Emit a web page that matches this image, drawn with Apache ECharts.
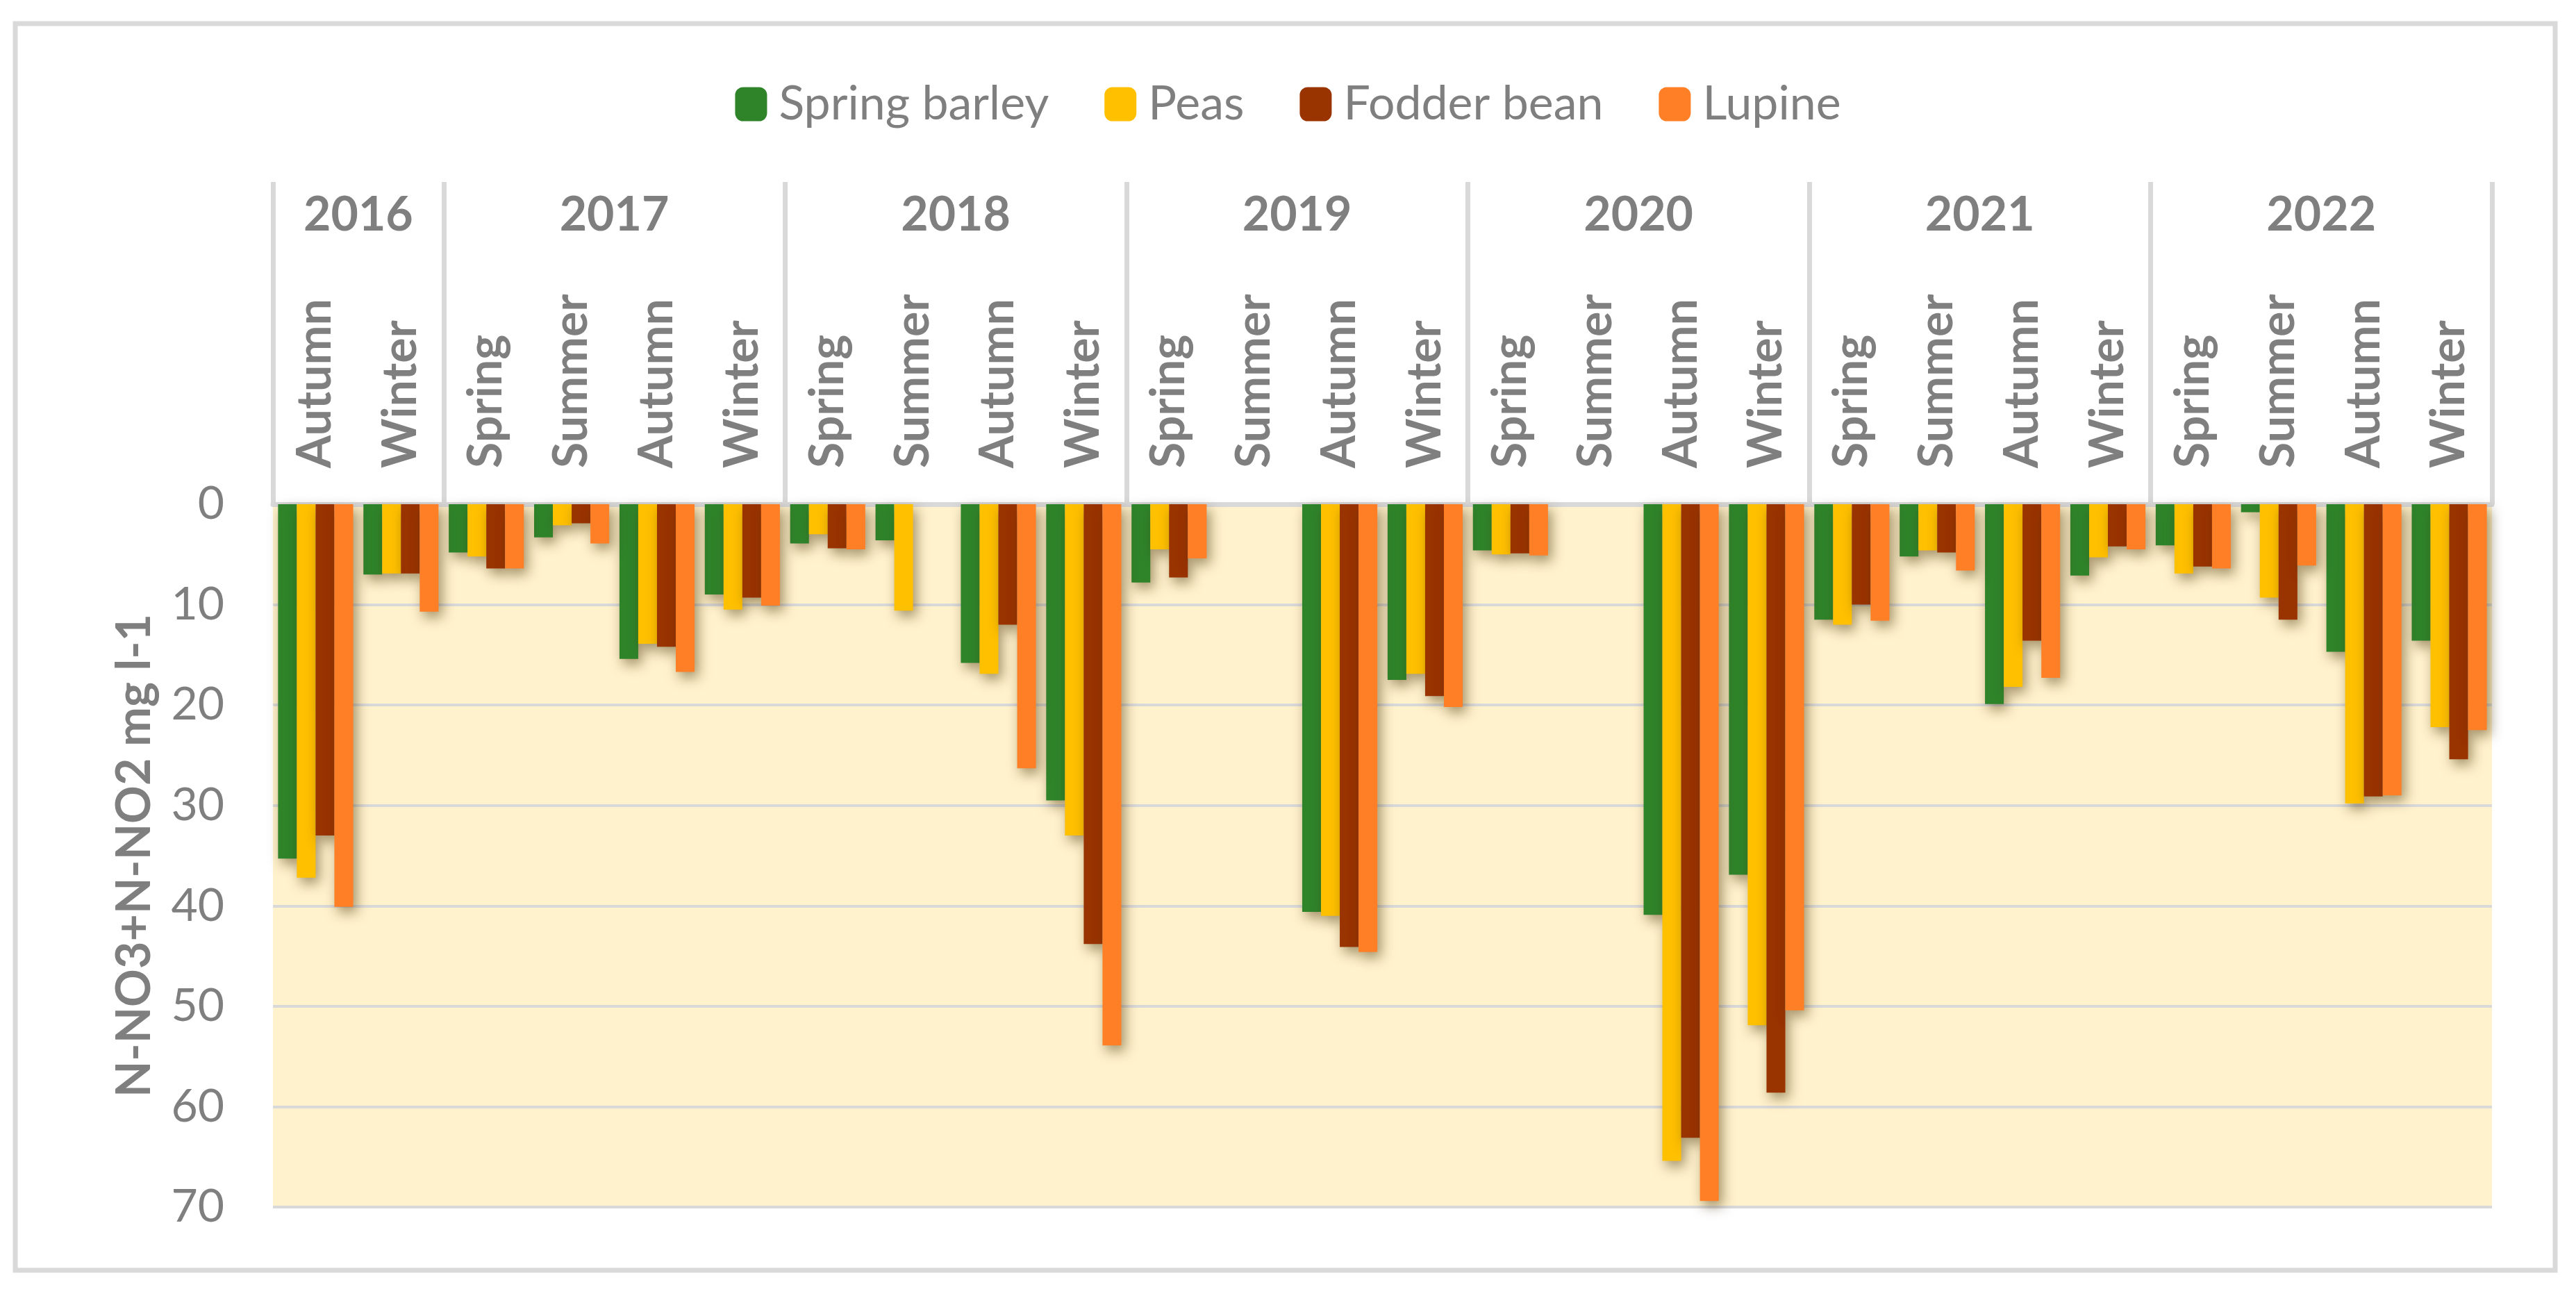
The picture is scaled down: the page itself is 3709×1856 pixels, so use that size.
<!DOCTYPE html>
<html>
<head>
<meta charset="utf-8">
<script src="https://cdn.jsdelivr.net/npm/echarts@6/dist/echarts.min.js"></script>
<style>
html,body{margin:0;padding:0;background:#fff;}
#chart{width:3709px;height:1856px;}
</style>
</head>
<body>
<div id="chart"></div>
<script>
// ---- data ----
var years = ['2016', '2017', '2018', '2019', '2020', '2021', '2022'];
var yearSeasons = [
  ['Autumn', 'Winter'],
  ['Spring', 'Summer', 'Autumn', 'Winter'],
  ['Spring', 'Summer', 'Autumn', 'Winter'],
  ['Spring', 'Summer', 'Autumn', 'Winter'],
  ['Spring', 'Summer', 'Autumn', 'Winter'],
  ['Spring', 'Summer', 'Autumn', 'Winter'],
  ['Spring', 'Summer', 'Autumn', 'Winter']
];
var seriesNames = ['Spring barley', 'Peas', 'Fodder bean', 'Lupine'];
var springBarley = [35.3, 7.0, 4.8, 3.3, 15.4, 9.0, 3.9, 3.6, 15.8, 29.5, 7.8, null, 40.6, 17.5, 4.6, null, 40.9, 36.9, 11.5, 5.2, 19.9, 7.1, 4.1, 0.8, 14.7, 13.6];
var peas         = [37.2, 6.9, 5.2, 2.1, 13.9, 10.5, 3.0, 10.6, 16.9, 33.0, 4.5, null, 41.0, 16.9, 5.0, null, 65.4, 51.9, 12.0, 4.6, 18.2, 5.3, 6.9, 9.3, 29.8, 22.2];
var fodderBean   = [33.0, 6.9, 6.4, 1.9, 14.2, 9.3, 4.4, null, 12.0, 43.8, 7.3, null, 44.1, 19.1, 4.9, null, 63.1, 58.6, 10.0, 4.8, 13.6, 4.2, 6.2, 11.5, 29.1, 25.4];
var lupine       = [40.1, 10.7, 6.4, 3.9, 16.7, 10.1, 4.5, null, 26.3, 53.9, 5.4, null, 44.6, 20.2, 5.1, null, 69.4, 50.4, 11.6, 6.6, 17.3, 4.5, 6.4, 6.1, 29.0, 22.5];
var yTicks = [0, 10, 20, 30, 40, 50, 60, 70];
var yAxisTitle = 'N-NO3+N-NO2 mg l-1';

// ---- derived ----
var seasons = [];
var boundaries = [0];
var centers = [];
var centerLabel = {};
yearSeasons.forEach(function (s, i) {
  var start = seasons.length;
  s.forEach(function (x) { seasons.push(x); });
  var end = seasons.length;
  boundaries.push(end);
  var c = (start + end) / 2;
  centers.push(c);
  centerLabel[c] = years[i];
});
var allData = [springBarley, peas, fodderBean, lupine];
var colors = ['#2F842A', '#FFC000', '#993300', '#FF7F27'];
var textColor = '#7F7F7F';
var fontFam = 'Lato, "Open Sans", sans-serif';

var chart = echarts.init(document.getElementById('chart'));
var option = {
  backgroundColor: '#ffffff',
  animation: false,
  color: colors,
  graphic: [{
    type: 'rect',
    shape: { x: 22, y: 34, width: 3657, height: 1795 },
    style: { fill: 'none', stroke: '#D9D9D9', lineWidth: 7 },
    silent: true
  }],
  legend: {
    top: 111,
    left: 'center',
    itemWidth: 46,
    itemHeight: 49,
    itemGap: 80,
    icon: 'roundRect',
    textStyle: { color: textColor, fontSize: 68, fontFamily: fontFam, padding: [0, 0, 0, 12] },
    data: seriesNames
  },
  grid: {
    left: 393, right: 121, top: 726, bottom: 118,
    show: true, backgroundColor: '#FFF2CC', borderWidth: 0
  },
  xAxis: [{
    type: 'category',
    position: 'top',
    data: seasons,
    axisLine: { show: true, lineStyle: { color: '#D9D9D9', width: 7 } },
    axisTick: { show: false },
    axisLabel: {
      interval: 0, rotate: 90, margin: 52,
      color: textColor, fontSize: 68, fontWeight: 'bold', fontFamily: fontFam
    },
    splitLine: { show: false }
  }, {
    type: 'value',
    position: 'top',
    min: 0,
    max: seasons.length,
    axisLine: { show: false },
    axisTick: {
      show: true, customValues: boundaries, length: 464, inside: false,
      lineStyle: { color: '#D9D9D9', width: 7 }
    },
    axisLabel: {
      show: true, customValues: centers, margin: 382,
      formatter: function (v) { return centerLabel[v] || ''; },
      color: textColor, fontSize: 68, fontWeight: 'bold', fontFamily: fontFam
    },
    splitLine: { show: false }
  }],
  yAxis: {
    type: 'value',
    inverse: true,
    min: yTicks[0],
    max: yTicks[yTicks.length - 1],
    interval: 10,
    name: yAxisTitle,
    nameLocation: 'middle',
    nameRotate: 90,
    nameGap: 165,
    nameTextStyle: { color: textColor, fontSize: 68, fontWeight: 'bold', fontFamily: fontFam },
    axisLine: { show: false },
    axisTick: { show: false },
    axisLabel: { color: textColor, fontSize: 66, fontFamily: fontFam, margin: 70 },
    splitLine: { show: true, lineStyle: { color: '#D9D9D9', width: 4 } }
  },
  series: seriesNames.map(function (n, i) {
    return {
      name: n,
      type: 'bar',
      xAxisIndex: 0,
      data: allData[i],
      barGap: '0%',
      barCategoryGap: '12%',
      itemStyle: {
        color: colors[i],
        shadowColor: 'rgba(70,45,0,0.5)',
        shadowBlur: 18,
        shadowOffsetX: 5,
        shadowOffsetY: 8
      }
    };
  })
};
chart.setOption(option);
</script>
</body>
</html>
